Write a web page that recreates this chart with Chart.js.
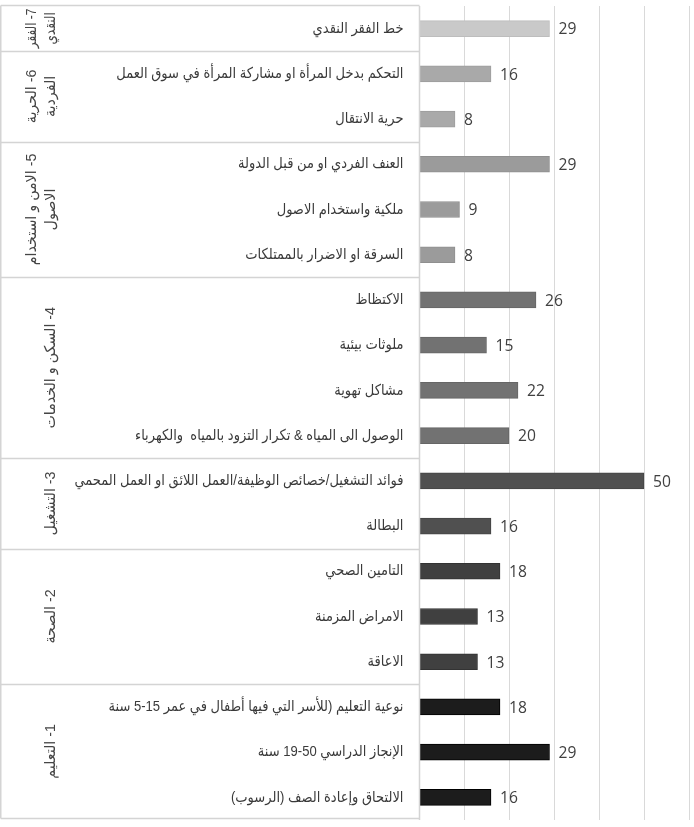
<!DOCTYPE html>
<html>
<head>
<meta charset="utf-8">
<script src="https://cdn.jsdelivr.net/npm/chart.js@4.4.1/dist/chart.umd.min.js"></script>
<style>
  html, body { margin: 0; padding: 0; background: #ffffff; }
  #wrap { position: relative; width: 694px; height: 827px; }
</style>
</head>
<body>
<div id="wrap"><canvas id="c" dir="rtl"></canvas></div>
<script>
// ---- data ----
const categories = [
  'خط الفقر النقدي',
  'التحكم بدخل المرأة او مشاركة المرأة في سوق العمل',
  'حرية الانتقال',
  'العنف الفردي او من قبل الدولة',
  'ملكية واستخدام الاصول',
  'السرقة او الاضرار بالممتلكات',
  'الاكتظاظ',
  'ملوثات بيئية',
  'مشاكل تهوية',
  'الوصول الى المياه & تكرار التزود بالمياه  والكهرباء',
  'فوائد التشغيل/خصائص الوظيفة/العمل اللائق او العمل المحمي',
  'البطالة',
  'التامين الصحي',
  'الامراض المزمنة',
  'الاعاقة',
  'نوعية التعليم (للأسر التي فيها أطفال في عمر 15-5 سنة',
  'الإنجاز الدراسي 50-19 سنة',
  'الالتحاق وإعادة الصف (الرسوب)'
];
const values = [29, 16, 8, 29, 9, 8, 26, 15, 22, 20, 50, 16, 18, 13, 13, 18, 29, 16];
const groupLabels = [
  ['7- الفقر', 'النقدي'],
  ['6- الحرية', 'الفردية'],
  ['5- الامن و استخدام', 'الاصول'],
  ['4- السكن و الخدمات'],
  ['3- التشغيل'],
  ['2- الصحة'],
  ['1- التعليم']
];
const groupSizes = [1, 2, 3, 4, 2, 3, 3];
const axisTicks = [0, 10, 20, 30, 40, 50, 60];

// ---- styles ----
const groupFill = ['#c9c9c9', '#a9a9a9', '#9b9b9b', '#727272', '#505050', '#404040', '#1c1c1c'];
const groupEdge = ['#bdbdbd', '#9d9d9d', '#8f8f8f', '#666666', '#444444', '#333333', '#000000'];

const barFill = [], barEdge = [];
groupSizes.forEach((n, g) => { for (let i = 0; i < n; i++) { barFill.push(groupFill[g]); barEdge.push(groupEdge[g]); } });

const ARABIC_FONT = "'Liberation Sans', 'DejaVu Sans', sans-serif";
const LINE_COLOR = '#d4d4d4';
const TEXT_COLOR = '#3a3a3a';
const SQUEEZE = 0.87;

const tablePlugin = {
  id: 'tablePlugin',
  afterDraw(chart) {
    const ctx = chart.ctx;
    const ys = chart.scales.y;
    const area = chart.chartArea;
    const top = Math.round(area.top) - 0.5, bottom = Math.round(area.bottom) - 1.5;
    const left = 0.75, right = Math.round(area.left) + 0.5;
    ctx.save();
    ctx.strokeStyle = LINE_COLOR;
    ctx.lineWidth = 1.5;
    ctx.beginPath();
    ctx.moveTo(left, top); ctx.lineTo(right, top);
    ctx.moveTo(left, bottom); ctx.lineTo(right, bottom);
    ctx.moveTo(left, top); ctx.lineTo(left, bottom);
    ctx.moveTo(right, area.top); ctx.lineTo(right, area.bottom);
    ctx.stroke();

    // category labels
    ctx.save();
    ctx.direction = 'rtl';
    ctx.fillStyle = TEXT_COLOR;
    ctx.font = '15px ' + ARABIC_FONT;
    ctx.textAlign = 'right';
    ctx.textBaseline = 'middle';
    categories.forEach((t, i) => {
      const y = ys.getPixelForValue(i);
      ctx.save();
      ctx.translate(right - 16, y);
      ctx.scale(SQUEEZE, 1);
      ctx.fillText(t, 0, 0);
      ctx.restore();
    });
    ctx.restore();

    // group separators and labels
    let start = 0;
    groupSizes.forEach((n, g) => {
      const end = start + n - 1;
      const yTop = start === 0 ? top : (ys.getPixelForValue(start - 1) + ys.getPixelForValue(start)) / 2;
      const yBot = end === categories.length - 1 ? bottom : (ys.getPixelForValue(end) + ys.getPixelForValue(end + 1)) / 2;
      if (end < categories.length - 1) {
        ctx.beginPath();
        ctx.moveTo(left, Math.round(yBot) + 0.5);
        ctx.lineTo(right, Math.round(yBot) + 0.5);
        ctx.stroke();
      }
      const lines = groupLabels[g];
      const yc = (yTop + yBot) / 2;
      ctx.save();
      ctx.direction = 'rtl';
      ctx.fillStyle = '#454545';
      ctx.font = '15px ' + ARABIC_FONT;
      ctx.textAlign = 'center';
      ctx.textBaseline = 'middle';
      const maxW = Math.max(...lines.map(t => ctx.measureText(t).width));
      const sx = Math.min(0.95, (yBot - yTop - 6) / maxW);
      ctx.translate(51, yc);
      ctx.rotate(-Math.PI / 2);
      ctx.scale(sx, 1);
      lines.forEach((t, i) => {
        const off = -(lines.length - 1 - i) * 19;
        ctx.fillText(t, 0, off);
      });
      ctx.restore();
      start += n;
    });
    ctx.restore();
  }
};

const valueLabels = {
  id: 'valueLabels',
  afterDatasetsDraw(chart) {
    const ctx = chart.ctx;
    const meta = chart.getDatasetMeta(0);
    ctx.save();
    ctx.direction = 'ltr';
    ctx.fillStyle = '#404040';
    ctx.font = "17px 'Open Sans', sans-serif";
    ctx.textAlign = 'left';
    ctx.textBaseline = 'middle';
    meta.data.forEach((bar, i) => {
      ctx.save();
      ctx.translate(bar.x + 9, bar.y + 1);
      ctx.scale(0.92, 1);
      ctx.fillText(String(values[i]), 0, 0);
      ctx.restore();
    });
    ctx.restore();
  }
};

new Chart(document.getElementById('c'), {
  type: 'bar',
  data: {
    labels: categories,
    datasets: [{
      data: values,
      backgroundColor: barFill,
      borderColor: barEdge,
      borderWidth: 1,
      barThickness: 16
    }]
  },
  options: {
    indexAxis: 'y',
    responsive: true,
    maintainAspectRatio: false,
    animation: false,
    layout: { padding: { top: 6, bottom: 7, left: 0, right: 5 } },
    plugins: { legend: { display: false }, tooltip: { enabled: false } },
    scales: {
      x: {
        min: axisTicks[0],
        max: axisTicks[axisTicks.length - 1],
        afterBuildTicks(scale) { scale.ticks = axisTicks.map(v => ({ value: v })); },
        ticks: { display: false },
        grid: { color: '#d9d9d9', lineWidth: 1, drawTicks: false },
        border: { display: false }
      },
      y: {
        afterFit(scale) { scale.width = 419; },
        grid: { display: false, drawTicks: false },
        border: { display: false },
        ticks: { display: false }
      }
    }
  },
  plugins: [valueLabels, tablePlugin]
});
</script>
</body>
</html>
